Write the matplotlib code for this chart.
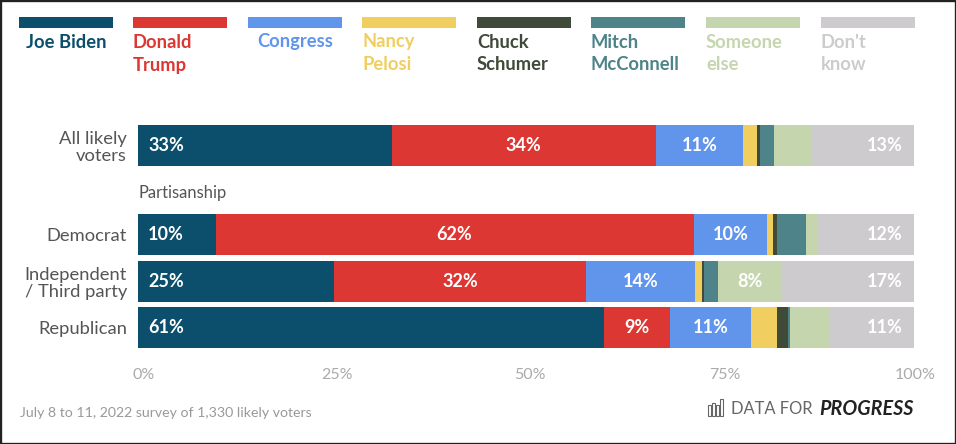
import matplotlib
matplotlib.use('Agg')
import matplotlib.pyplot as plt
import matplotlib.transforms as mtransforms
from matplotlib.patches import Rectangle

##############################################
# === Data ===
##############################################
rows = ['All likely\nvoters', 'Democrat', 'Independent\n/ Third party', 'Republican']

biden = [32.7, 10.0, 25.3, 60.0]
trump = [34.0, 61.6, 32.4, 8.5]
congress = [11.3, 9.5, 14.1, 10.5]
pelosi = [1.8, 0.7, 0.9, 3.3]
schumer = [0.4, 0.5, 0.2, 1.4]
mcconnell = [1.7, 3.8, 1.8, 0.3]
someone_else = [4.8, 1.4, 8.3, 5.1]
dont_know = [13.3, 12.5, 17.0, 10.9]

biden_labels = ['33%', '10%', '25%', '61%']
trump_labels = ['34%', '62%', '32%', '9%']
congress_labels = ['11%', '10%', '14%', '11%']
pelosi_labels = ['', '', '', '']
schumer_labels = ['', '', '', '']
mcconnell_labels = ['', '', '', '']
someone_labels = ['', '', '8%', '']
dont_know_labels = ['13%', '12%', '17%', '11%']

series_names = ['Joe Biden', 'Donald\nTrump', 'Congress', 'Nancy\nPelosi', 'Chuck\nSchumer',
                'Mitch\nMcConnell', 'Someone\nelse', "Don't\nknow"]
series_values = [biden, trump, congress, pelosi, schumer, mcconnell, someone_else, dont_know]
series_labels = [biden_labels, trump_labels, congress_labels, pelosi_labels, schumer_labels,
                 mcconnell_labels, someone_labels, dont_know_labels]
colors = ['#0B4F6C', '#DC3732', '#6195EC', '#F0CE5F', '#3F4A38', '#4D8389', '#C5D6AE', '#CECBCF']

x_ticks = [0, 25, 50, 75, 100]
x_tick_labels = ['0%', '25%', '50%', '75%', '100%']

##############################################
# === Layout (pixels of the 956x444 picture) ===
##############################################
W, H = 956, 444
plt.rcParams['font.family'] = ['Lato', 'DejaVu Sans']

def fx(x):
    return x / W

def fy(y):
    return 1 - y / H

fig = plt.figure(figsize=(W / 100, H / 100), dpi=100, facecolor='white')

# dark frame round the screenshot
fig.add_artist(Rectangle((0, 0), 1, 1, transform=fig.transFigure, fill=False,
                         edgecolor='#222222', linewidth=2.4))

ROW_PX = 46.6
TOP_ROW_PX = 145.7
ax_top, ax_bottom = 100, 360
ax = fig.add_axes([fx(138), fy(ax_bottom), fx(914) - fx(138), (ax_bottom - ax_top) / H])
ax.set_xlim(0, 100)
ax.set_ylim((ax_bottom - TOP_ROW_PX) / ROW_PX, (ax_top - TOP_ROW_PX) / ROW_PX)
for spine in ax.spines.values():
    spine.set_visible(False)

y_pos = [0, 1.906, 2.906, 3.906]

##############################################
# === Stacked bars ===
##############################################
lefts = [0, 0, 0, 0]
for values, labels, color in zip(series_values, series_labels, colors):
    ax.barh(y_pos, values, left=lefts, height=0.88, color=color, linewidth=0)
    for i, label in enumerate(labels):
        if label == '':
            continue
        if color == colors[0]:
            # first segment labels sit at the left edge
            ax.annotate(label, (lefts[i], y_pos[i]), xytext=(7.2, 0), textcoords='offset points',
                        ha='left', va='center', color='white', fontsize=13, fontweight='bold')
        elif color == colors[-1]:
            # last segment labels sit at the right edge
            ax.annotate(label, (100, y_pos[i]), xytext=(-8, 0), textcoords='offset points',
                        ha='right', va='center', color='white', fontsize=13, fontweight='bold')
        else:
            ax.text(lefts[i] + values[i] / 2, y_pos[i], label, ha='center', va='center',
                    color='white', fontsize=13, fontweight='bold')
    lefts = [a + b for a, b in zip(lefts, values)]

ax.set_yticks(y_pos)
ax.set_yticklabels(rows, fontsize=13.2, color='#555555', linespacing=1.08)
ax.tick_params(axis='y', length=0, pad=7.9)

ax.set_xticks(x_ticks)
ax.set_xticklabels(x_tick_labels, fontsize=11.5, color='#AAAAAA')
ax.tick_params(axis='x', length=0, pad=6)
# tick labels in the source sit a little right of their positions
for tick_label, dx in zip(ax.get_xticklabels(), [6, 5, 4, 5, 1]):
    offset = mtransforms.ScaledTranslation(dx / 100, 0, fig.dpi_scale_trans)
    tick_label.set_transform(tick_label.get_transform() + offset)

ax.text(0, (193 - TOP_ROW_PX) / ROW_PX, 'Partisanship', ha='left', va='center',
        fontsize=11.9, color='#555555')

##############################################
# === Legend ===
##############################################
swatch_x = [19, 133, 248, 362, 477, 591, 706, 820.5]
for name, color, x in zip(series_names, colors, swatch_x):
    fig.add_artist(Rectangle((fx(x), fy(28)), 94 / W, 10.5 / H, transform=fig.transFigure,
                             facecolor=color, edgecolor='none'))
    if '\n' in name:
        fig.text(fx(x), fy(42), name.split('\n')[0], ha='left', va='center',
                 color=color, fontsize=13.2, fontweight='bold')
        fig.text(fx(x), fy(65), name.split('\n')[1], ha='left', va='center',
                 color=color, fontsize=13.2, fontweight='bold')
    else:
        fig.text(fx(x + 47), fy(42), name, ha='center', va='center',
                 color=color, fontsize=13.2, fontweight='bold')

##############################################
# === Footer ===
##############################################
fig.text(fx(20), fy(413), 'July 8 to 11, 2022 survey of 1,330 likely voters', ha='left', va='center',
         fontsize=10.2, color='#999999')

fig.text(fx(731), fy(409), 'DATA FOR', ha='left', va='center', fontsize=11.9, color='#666666')
fig.text(fx(914), fy(409), 'PROGRESS', ha='right', va='center', fontsize=14.2, color='#222222',
         fontweight='bold', fontstyle='italic')

# little bar-chart logo
for x, top in [(708, 405), (712, 403), (716, 405), (720, 399)]:
    fig.add_artist(Rectangle((fx(x), fy(416)), 3 / W, (416 - top) / H, transform=fig.transFigure,
                             fill=False, edgecolor='#666666', linewidth=0.8))

fig.savefig('out.png', dpi=100)
